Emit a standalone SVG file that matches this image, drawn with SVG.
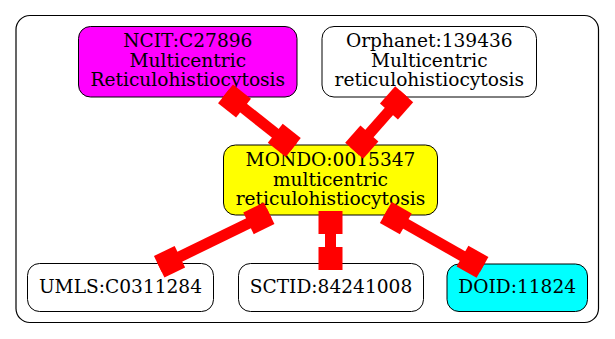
<svg xmlns="http://www.w3.org/2000/svg" width="615" height="339" viewBox="0 0 615 339">
  <style>
    .cluster { fill: #ffffff; stroke: #000000; stroke-width: 1.2; }
    .node rect { stroke: #000000; stroke-width: 1; }
    .node text { font-family: "DejaVu Serif", serif; font-size: 18.6px; text-anchor: middle; fill: #000000; }
    .edge line { stroke: #ff0000; stroke-width: 11; }
    .edge rect { fill: #ff0000; }
  </style>
  <rect width="615" height="339" fill="#ffffff"/>

  <!-- cluster -->
  <rect class="cluster" x="16" y="15.5" width="582.5" height="307" rx="14"/>

  <g id="ncit" class="node">
    <rect x="78.5" y="26.5" width="218.5" height="70.5" rx="12" fill="#ff00ff"/>
    <text x="187.8" y="47">NCIT:C27896</text>
    <text x="187.8" y="66.5">Multicentric</text>
    <text x="187.8" y="86">Reticulohistiocytosis</text>
  </g>

  <g id="orphanet" class="node">
    <rect x="322" y="26.5" width="214.5" height="70.5" rx="12" fill="#ffffff"/>
    <text x="429.3" y="47">Orphanet:139436</text>
    <text x="429.3" y="66.5">Multicentric</text>
    <text x="429.3" y="86">reticulohistiocytosis</text>
  </g>

  <g id="mondo" class="node">
    <rect x="223.5" y="145" width="214" height="70" rx="12" fill="#ffff00"/>
    <text x="330.5" y="166">MONDO:0015347</text>
    <text x="330.5" y="185.5">multicentric</text>
    <text x="330.5" y="205">reticulohistiocytosis</text>
  </g>

  <g id="umls" class="node">
    <rect x="27.5" y="263.5" width="186" height="48" rx="12" fill="#ffffff"/>
    <text x="120.5" y="292.5">UMLS:C0311284</text>
  </g>

  <g id="sctid" class="node">
    <rect x="238.5" y="263.5" width="185" height="48" rx="12" fill="#ffffff"/>
    <text x="331" y="292.5">SCTID:84241008</text>
  </g>

  <g id="doid" class="node">
    <rect x="447" y="264" width="140.5" height="47.5" rx="12" fill="#00ffff"/>
    <text x="517.2" y="292.5">DOID:11824</text>
  </g>

  <!-- connectors: thick line with a box at each end -->
  <g id="edges" class="edge">
    <g transform="translate(225.5,93.8) rotate(38.4)">
      <line x1="0" y1="0" x2="86.5" y2="0"/>
      <rect x="0" y="-12" width="23" height="24"/>
      <rect x="63.5" y="-12" width="23" height="24"/>
    </g>
    <g transform="translate(404.2,94.2) rotate(131.5)">
      <line x1="0" y1="0" x2="75.5" y2="0"/>
      <rect x="0" y="-12" width="23" height="24"/>
      <rect x="52.5" y="-12" width="23" height="24"/>
    </g>
    <g transform="translate(269.2,213.3) rotate(154.1)">
      <line x1="0" y1="0" x2="122.3" y2="0"/>
      <rect x="0" y="-12" width="23" height="24"/>
      <rect x="99.3" y="-12" width="23" height="24"/>
    </g>
    <g transform="translate(330.5,211) rotate(90)">
      <line x1="0" y1="0" x2="59" y2="0"/>
      <rect x="0" y="-12" width="23" height="24"/>
      <rect x="36" y="-12" width="23" height="24"/>
    </g>
    <g transform="translate(385.8,212.5) rotate(29.6)">
      <line x1="0" y1="0" x2="111.2" y2="0"/>
      <rect x="0" y="-12" width="23" height="24"/>
      <rect x="88.2" y="-12" width="23" height="24"/>
    </g>
  </g>
</svg>
